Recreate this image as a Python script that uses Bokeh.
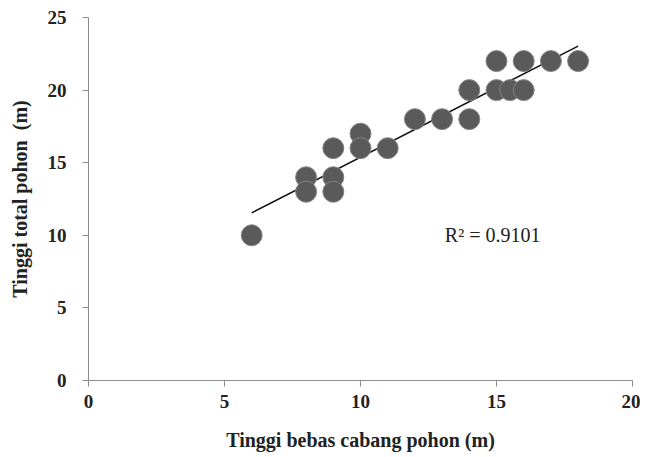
import numpy as np
from bokeh.plotting import figure
from bokeh.models import Range1d, FixedTicker, Label
from bokeh.embed import file_html
from bokeh.resources import INLINE

x_vals = [6, 8, 8, 9, 9, 9, 10, 10, 11, 12, 13, 14, 14, 15, 15, 15.5, 16, 16, 17, 18]
y_vals = [10, 14, 13, 16, 14, 13, 17, 16, 16, 18, 18, 20, 18, 22, 20, 20, 22, 20, 22, 22]
x_ticks = [0, 5, 10, 15, 20]
y_ticks = [0, 5, 10, 15, 20, 25]
r2_text = "R\u00b2 = 0.9101"

p = figure(width=640, height=455, output_backend="svg", toolbar_location=None,
           x_range=Range1d(0, 20), y_range=Range1d(0, 25),
           min_border_left=88, min_border_right=8, min_border_top=17, min_border_bottom=75)
p.outline_line_color = None
p.xgrid.grid_line_color = None
p.ygrid.grid_line_color = None

for ax in (p.xaxis[0], p.yaxis[0]):
    ax.axis_line_color = "#8c8c8c"
    ax.major_tick_line_color = "#8c8c8c"
    ax.minor_tick_line_color = None
    ax.major_tick_out = 6
    ax.major_tick_in = 0
    ax.major_label_text_font = "Liberation Serif"
    ax.major_label_text_font_style = "bold"
    ax.major_label_text_font_size = "19px"
    ax.major_label_text_color = "#222222"
    ax.axis_label_text_font = "Liberation Serif"
    ax.axis_label_text_font_style = "bold"
    ax.axis_label_text_font_size = "20px"
    ax.axis_label_text_color = "#222222"

p.xaxis.ticker = FixedTicker(ticks=x_ticks)
p.yaxis.ticker = FixedTicker(ticks=y_ticks)
p.xaxis.axis_label = "Tinggi bebas cabang pohon (m)"
p.yaxis.axis_label = "Tinggi total pohon \u00a0(m)"
p.xaxis.major_label_standoff = 8
p.xaxis.axis_label_standoff = 18
p.yaxis.major_label_standoff = 16
p.yaxis.axis_label_standoff = 14

# linear trendline fitted from the data
xs = np.array(x_vals, dtype=float)
ys = np.array(y_vals, dtype=float)
m, b = np.polyfit(xs, ys, 1)
lx = np.array([xs.min(), xs.max()])
p.line(lx, m * lx + b, line_color="#111111", line_width=1.5)

p.scatter(x_vals, y_vals, size=21, marker="circle", fill_color="#5a5a5a",
          line_color="#858585", line_width=1)

p.add_layout(Label(x=13.1, y=10, text=r2_text, text_font="Liberation Serif",
                   text_font_size="20px", text_color="#222222",
                   text_baseline="middle", text_align="left"))

open("out.html", "w").write(file_html(p, INLINE))
